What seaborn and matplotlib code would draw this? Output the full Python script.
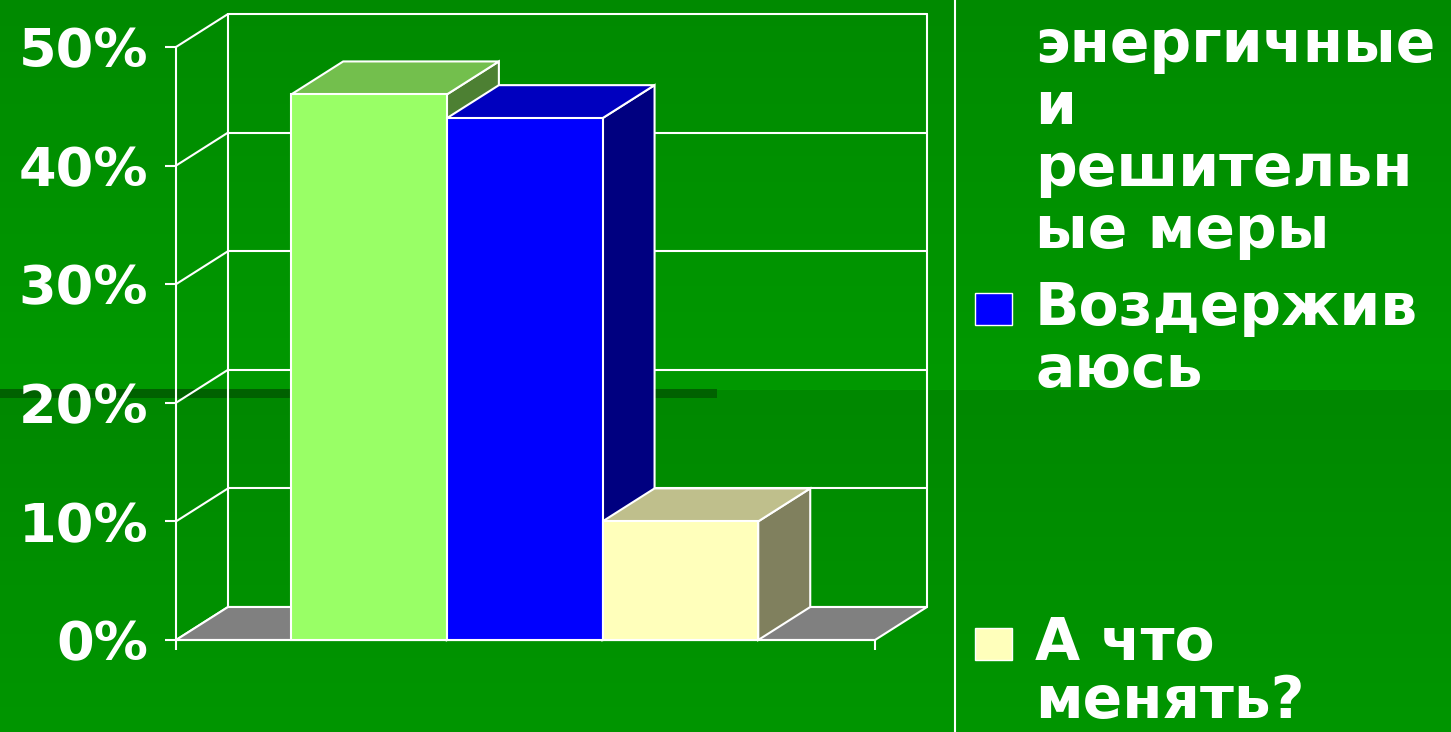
import numpy as np
import pandas as pd
import matplotlib
matplotlib.use("Agg")
import matplotlib.pyplot as plt
import seaborn as sns
from matplotlib.patches import Polygon, Rectangle
from matplotlib.lines import Line2D
from matplotlib.colors import to_rgb

# ---------------- data ----------------
series = ["энергичные и решительные меры", "Воздерживаюсь", "А что менять?"]
legend_lines = [["энергичные", "и", "решительн", "ые меры"],
                ["Воздержив", "аюсь"],
                ["А что", "менять?"]]
values = [46, 44, 10]
colors = ["#99FF66", "#0000FF", "#FFFFBB"]
y_ticks = [0, 10, 20, 30, 40, 50]
y_tick_labels = ["0%", "10%", "20%", "30%", "40%", "50%"]

# ---------------- figure ----------------
W, H = 1451, 732
sns.set_theme(style="white")
plt.rcParams["font.family"] = ["DejaVu Sans"]
fig = plt.figure(figsize=(W / 100, H / 100), dpi=100)

# background (two gradient halves + dark strip)
bg = fig.add_axes([0, 0, 1, 1], zorder=-10)
g = np.zeros((H, 1, 3))
g[:390, 0, 1] = np.linspace(138, 153, 390) / 255
g[390:, 0, 1] = np.linspace(136, 150, H - 390) / 255
bg.imshow(g, aspect="auto", extent=(0, W, H, 0), interpolation="nearest")
bg.add_patch(Rectangle((0, 389), 717, 9, color=(0, 0.38, 0), lw=0))
bg.set_xlim(0, W)
bg.set_ylim(H, 0)
bg.axis("off")

# main axes (front plane)
L, R, T, B = 176, 875, 47, 640
ax = fig.add_axes([L / W, 1 - B / H, (R - L) / W, (B - T) / H])
ax.set_facecolor("none")

df = pd.DataFrame({"series": series, "value": values})
sns.barplot(data=df, x="series", y="value", hue="series", palette=colors,
            width=1.0, legend=False, ax=ax, saturation=1,
            edgecolor="white", linewidth=1.5)

x0lim, x1lim = -1.24, 3.25
ax.set_xlim(x0lim, x1lim)
ax.set_ylim(0, 50)

# depth offsets in data units
DX = 52 * (x1lim - x0lim) / (R - L)
DY = 33 * 50 / (B - T)

wl = dict(color="white", lw=1.5, clip_on=False, zorder=1, solid_capstyle="round")

# floor
floor = Polygon([(x0lim, 0), (x1lim, 0), (x1lim + DX, DY), (x0lim + DX, DY)],
                closed=True, facecolor="#808080", edgecolor="white", lw=1.5,
                clip_on=False, zorder=1.5)
ax.add_patch(floor)

# walls and gridlines
for t in y_ticks:
    ax.plot([x0lim, x0lim + DX], [t, t + DY], **wl)
    ax.plot([x0lim + DX, x1lim + DX], [t + DY, t + DY], **wl)
ax.plot([x0lim + DX, x0lim + DX], [DY, 50 + DY], **wl)
ax.plot([x1lim + DX, x1lim + DX], [DY, 50 + DY], **wl)

# 3D tops and sides
for i, p in enumerate(ax.patches[:len(values)]):
    if not isinstance(p, Rectangle):
        continue
    bx, bw, bh = p.get_x(), p.get_width(), p.get_height()
    rgb = np.array(to_rgb(p.get_facecolor()))
    top = Polygon([(bx, bh), (bx + bw, bh), (bx + bw + DX, bh + DY), (bx + DX, bh + DY)],
                  closed=True, facecolor=rgb * 0.75, edgecolor="white", lw=1.5,
                  clip_on=False, zorder=3 + 2 * i)
    side = Polygon([(bx + bw, 0), (bx + bw, bh), (bx + bw + DX, bh + DY), (bx + bw + DX, DY)],
                   closed=True, facecolor=rgb * 0.5, edgecolor="white", lw=1.5,
                   clip_on=False, zorder=3 + 2 * i)
    ax.add_patch(side)
    ax.add_patch(top)
    p.set_zorder(4 + 2 * i)
    p.set_clip_on(False)

# spines and ticks
for s in ["top", "right"]:
    ax.spines[s].set_visible(False)
for s in ["left", "bottom"]:
    ax.spines[s].set_color("white")
    ax.spines[s].set_linewidth(1.5)
ax.set_yticks(y_ticks)
ax.set_yticklabels(y_tick_labels)
ax.set_xticks([x0lim, x1lim])
ax.set_xticklabels(["", ""])
ax.set_xlabel("")
ax.set_ylabel("")
ax.tick_params(axis="y", colors="white", length=8, width=1.5, pad=12,
               labelsize=39, left=True, direction="out")
ax.tick_params(axis="x", colors="white", length=7, width=1.5, bottom=True,
               direction="out")
for lab in ax.get_yticklabels():
    lab.set_fontweight("heavy")
    lab.set_color("white")

# legend
fig.add_artist(Line2D([955 / W, 955 / W], [0, 1], transform=fig.transFigure,
                      color="white", lw=1.5))
baselines = [62, 325, 660]
line_step = 62
marker_centers = [None, 309, 644]
for i, lines in enumerate(legend_lines):
    for k, txt in enumerate(lines):
        yb = baselines[i] + k * (line_step if i < 2 else 58)
        fig.text(1035 / W, 1 - yb / H, txt, color="white", fontsize=42,
                 fontweight="heavy", va="baseline", ha="left")
    if marker_centers[i] is not None:
        mc = marker_centers[i]
        fig.add_artist(Rectangle((975 / W, 1 - (mc + 16) / H), 37 / W, 32 / H,
                                 transform=fig.transFigure, facecolor=colors[i],
                                 edgecolor="white", lw=1))

fig.savefig("out.png", dpi=100)
